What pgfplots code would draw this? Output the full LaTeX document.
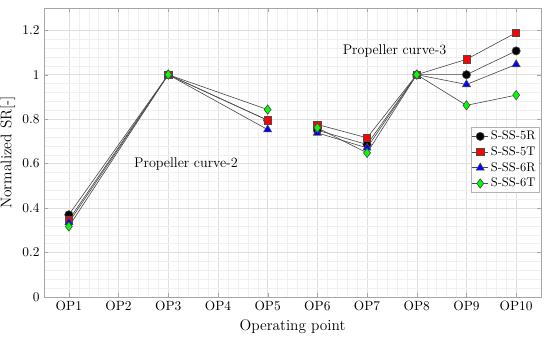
\documentclass[border=0pt]{standalone}
\usepackage{pgfplots}
\pgfplotsset{compat=1.18}
\begin{document}
\begin{tikzpicture}
\begin{axis}[
  scale only axis,
  width=397.6pt, height=231.2pt,
  xmin=0.5, xmax=10.5, ymin=0, ymax=1.3,
  xtick={1,...,10},
  xticklabels={OP1,OP2,OP3,OP4,OP5,OP6,OP7,OP8,OP9,OP10},
  ytick={0,0.2,0.4,0.6,0.8,1,1.2},
  yticklabels={0,0.2,0.4,0.6,0.8,1,1.2},
  tick label style={font=\fontsize{10.7}{12}\selectfont},
  minor x tick num=4, minor y tick num=4,
  grid=both,
  major grid style={gray!25, line width=0.4pt},
  minor grid style={gray!12, line width=0.3pt},
  axis line style={gray!70},
  tick style={gray!70},
  minor tick length=0pt,
  major tick length=3pt,
  tick align=inside,
  xlabel={Operating point},
  ylabel={Normalized SR[-]},
  label style={font=\fontsize{12.3}{14}\selectfont},
  xlabel style={yshift=0pt},
  ylabel style={yshift=-1pt},
  unbounded coords=jump,
  every axis plot/.append style={black!70, line width=0.5pt, mark size=3.3pt, mark options={draw=black, solid}},
  legend style={at={(0.997,0.588)}, anchor=north east, draw=gray!60, font=\fontsize{10}{12}\selectfont, inner sep=1pt, row sep=0pt, cells={anchor=west}},
  legend image code/.code={\draw[mark repeat=2,mark phase=2] plot coordinates {(0cm,0cm) (0.22cm,0cm) (0.44cm,0cm)};},
  legend cell align=left,
]
\addplot[mark=*, mark options={fill=black}] coordinates {
 (1,0.370) (3,1.000) (5,0.795) (5.5,nan) (6,0.750) (7,0.686) (8,1.000) (9,1.000) (10,1.107)};
\addlegendentry{S-SS-5R}
\addplot[mark=square*, mark options={fill=red}, mark size=2.9pt] coordinates {
 (1,0.347) (3,1.000) (5,0.795) (5.5,nan) (6,0.776) (7,0.716) (8,1.000) (9,1.069) (10,1.189)};
\addlegendentry{S-SS-5T}
\addplot[mark=triangle*, mark options={fill=blue}, mark size=3.7pt] coordinates {
 (1,0.335) (3,1.000) (5,0.753) (5.5,nan) (6,0.738) (7,0.671) (8,1.000) (9,0.956) (10,1.046)};
\addlegendentry{S-SS-6R}
\addplot[mark=diamond*, mark options={fill=green}, mark size=3.7pt] coordinates {
 (1,0.317) (3,1.000) (5,0.843) (5.5,nan) (6,0.761) (7,0.648) (8,1.000) (9,0.862) (10,0.908)};
\addlegendentry{S-SS-6T}
\node[font=\fontsize{11.3}{13}\selectfont] at (axis cs:3.357,0.600) {Propeller curve-2};
\node[font=\fontsize{11.3}{13}\selectfont] at (axis cs:7.554,1.106) {Propeller curve-3};
\end{axis}
\pgfresetboundingbox
\useasboundingbox (-35.2pt,-34.4pt) rectangle (404.8pt,237.6pt);
\end{tikzpicture}
\end{document}
